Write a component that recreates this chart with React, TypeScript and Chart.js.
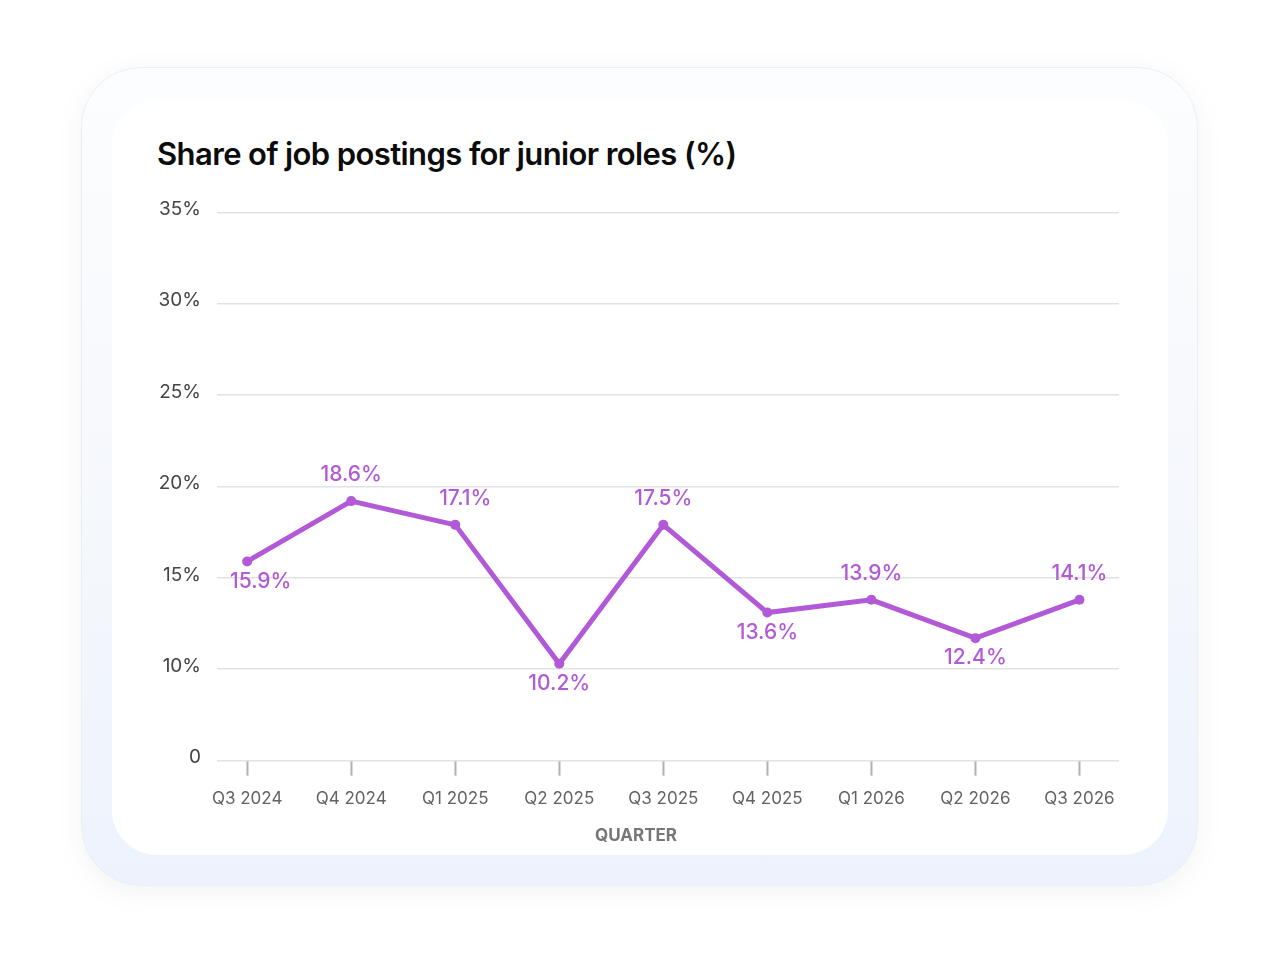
import React, { useEffect, useRef } from 'react';
import { Chart, registerables } from 'chart.js';

Chart.register(...registerables);

// Quarters on the x axis
const quarters = ['Q3 2024', 'Q4 2024', 'Q1 2025', 'Q2 2025', 'Q3 2025', 'Q4 2025', 'Q1 2026', 'Q2 2026', 'Q3 2026'];
// Where each point sits on the chart
const shareValues = [15.9, 19.2, 17.9, 10.3, 17.9, 13.1, 13.8, 11.7, 13.8];
// Value labels printed next to each point
const shareLabels = ['15.9%', '18.6%', '17.1%', '10.2%', '17.5%', '13.6%', '13.9%', '12.4%', '14.1%'];
// y ticks: the lowest gridline is printed as "0"
const yTicks = [5, 10, 15, 20, 25, 30, 35];

const PURPLE = '#b159d6';
const FONT = 'Inter, "Noto Sans", sans-serif';

// draws the value labels above or below each point
const valueLabels = {
  id: 'valueLabels',
  afterDatasetsDraw(chart: any) {
    const { ctx, chartArea } = chart;
    const meta = chart.getDatasetMeta(0);
    ctx.save();
    ctx.font = `500 21px ${FONT}`;
    ctx.fillStyle = PURPLE;
    ctx.textAlign = 'center';
    ctx.textBaseline = 'middle';
    meta.data.forEach((pt: any, i: number) => {
      const v = shareValues[i];
      const prev = shareValues[i - 1];
      const next = shareValues[i + 1];
      const around = [prev, next].filter((n) => n !== undefined) as number[];
      const avg = around.reduce((a, b) => a + b, 0) / around.length;
      const above = v >= avg;
      const text = shareLabels[i];
      const w = ctx.measureText(text).width;
      let x = pt.x;
      // nudge away from a higher neighbour so the label clears the line
      if (above && around.some((n) => n > v)) {
        x += prev !== undefined && prev > v ? 10 : -10;
      }
      x = Math.max(x, chartArea.left + 13 + w / 2);
      x = Math.min(x, chartArea.right - 4 - w / 2);
      const y = above ? pt.y - 26 : pt.y + 20;
      ctx.fillText(text, x, y);
    });
    ctx.restore();
  },
};

function App() {
  const canvasRef = useRef<HTMLCanvasElement>(null);

  useEffect(() => {
    if (!canvasRef.current) return;
    const chart = new Chart(canvasRef.current, {
      type: 'line',
      data: {
        datasets: [
          {
            label: 'Share of job postings for junior roles',
            data: shareValues.map((v, i) => ({ x: i, y: v })),
            borderColor: PURPLE,
            backgroundColor: PURPLE,
            borderWidth: 5,
            pointRadius: 5,
            pointHoverRadius: 5,
            pointBorderWidth: 0,
            tension: 0,
          },
        ],
      },
      options: {
        animation: false,
        responsive: false,
        maintainAspectRatio: false,
        layout: { padding: { left: 23, right: 23, top: 17, bottom: 0 } },
        plugins: {
          legend: { display: false },
          tooltip: { enabled: false },
          title: {
            display: true,
            position: 'bottom',
            text: 'QUARTER',
            color: '#777777',
            font: { family: FONT, size: 17, weight: 'bold' },
            padding: { top: 0, bottom: 4 },
          },
        },
        scales: {
          x: {
            type: 'linear',
            min: -0.29,
            max: 8.38,
            afterFit: (scale: any) => {
              scale.height = 65;
            },
            afterBuildTicks: (scale: any) => {
              scale.ticks = quarters.map((_, i) => ({ value: i }));
            },
            ticks: {
              callback: (value: any) => quarters[value] ?? '',
              color: '#626262',
              font: { family: FONT, size: 17 },
              padding: 13,
              maxRotation: 0,
              autoSkip: false,
            },
            grid: {
              drawOnChartArea: false,
              drawTicks: true,
              tickLength: 15,
              tickWidth: 2,
              tickColor: '#b0b0b0',
            },
            border: { display: false },
          },
          y: {
            min: 5,
            max: 35,
            afterFit: (scale: any) => {
              scale.width = 64;
            },
            afterBuildTicks: (scale: any) => {
              scale.ticks = yTicks.map((v) => ({ value: v }));
            },
            ticks: {
              callback: (value: any) => (value === 5 ? '0' : value + '%'),
              color: '#444444',
              font: { family: FONT, size: 19 },
              padding: 16,
              labelOffset: -3,
            },
            grid: {
              color: '#e2e2e2',
              lineWidth: 1.5,
              drawTicks: false,
            },
            border: { display: false },
          },
        },
      },
      plugins: [valueLabels],
    });

    return () => {
      chart.destroy();
    };
  }, []);

  return (
    <div style={{ position: 'fixed', inset: 0, background: '#ffffff', fontFamily: FONT }}>
      {/* outer frame */}
      <div
        style={{
          position: 'absolute',
          left: 81,
          top: 67,
          width: 1117,
          height: 819,
          borderRadius: 60,
          background: 'linear-gradient(180deg, #fcfdfe 0%, #f4f7fc 60%, #edf3fd 100%)',
          border: '1px solid #eceef1',
          boxShadow: '0 6px 30px rgba(0, 0, 0, 0.05)',
          boxSizing: 'border-box',
        }}
      />
      {/* inner white card */}
      <div
        style={{
          position: 'absolute',
          left: 112,
          top: 100,
          width: 1056,
          height: 755,
          borderRadius: 45,
          background: '#ffffff',
        }}
      />
      <div
        style={{
          position: 'absolute',
          left: 157,
          top: 134,
          fontSize: 31,
          fontWeight: 600,
          letterSpacing: -0.6,
          color: '#0c0c0c',
          whiteSpace: 'nowrap',
          lineHeight: '40px',
        }}
      >
        Share of job postings for junior roles (%)
      </div>
      <canvas
        ref={canvasRef}
        width={1012}
        height={665}
        style={{ position: 'absolute', left: 130, top: 185, width: 1012, height: 665 }}
      />
    </div>
  );
}

export default App;
